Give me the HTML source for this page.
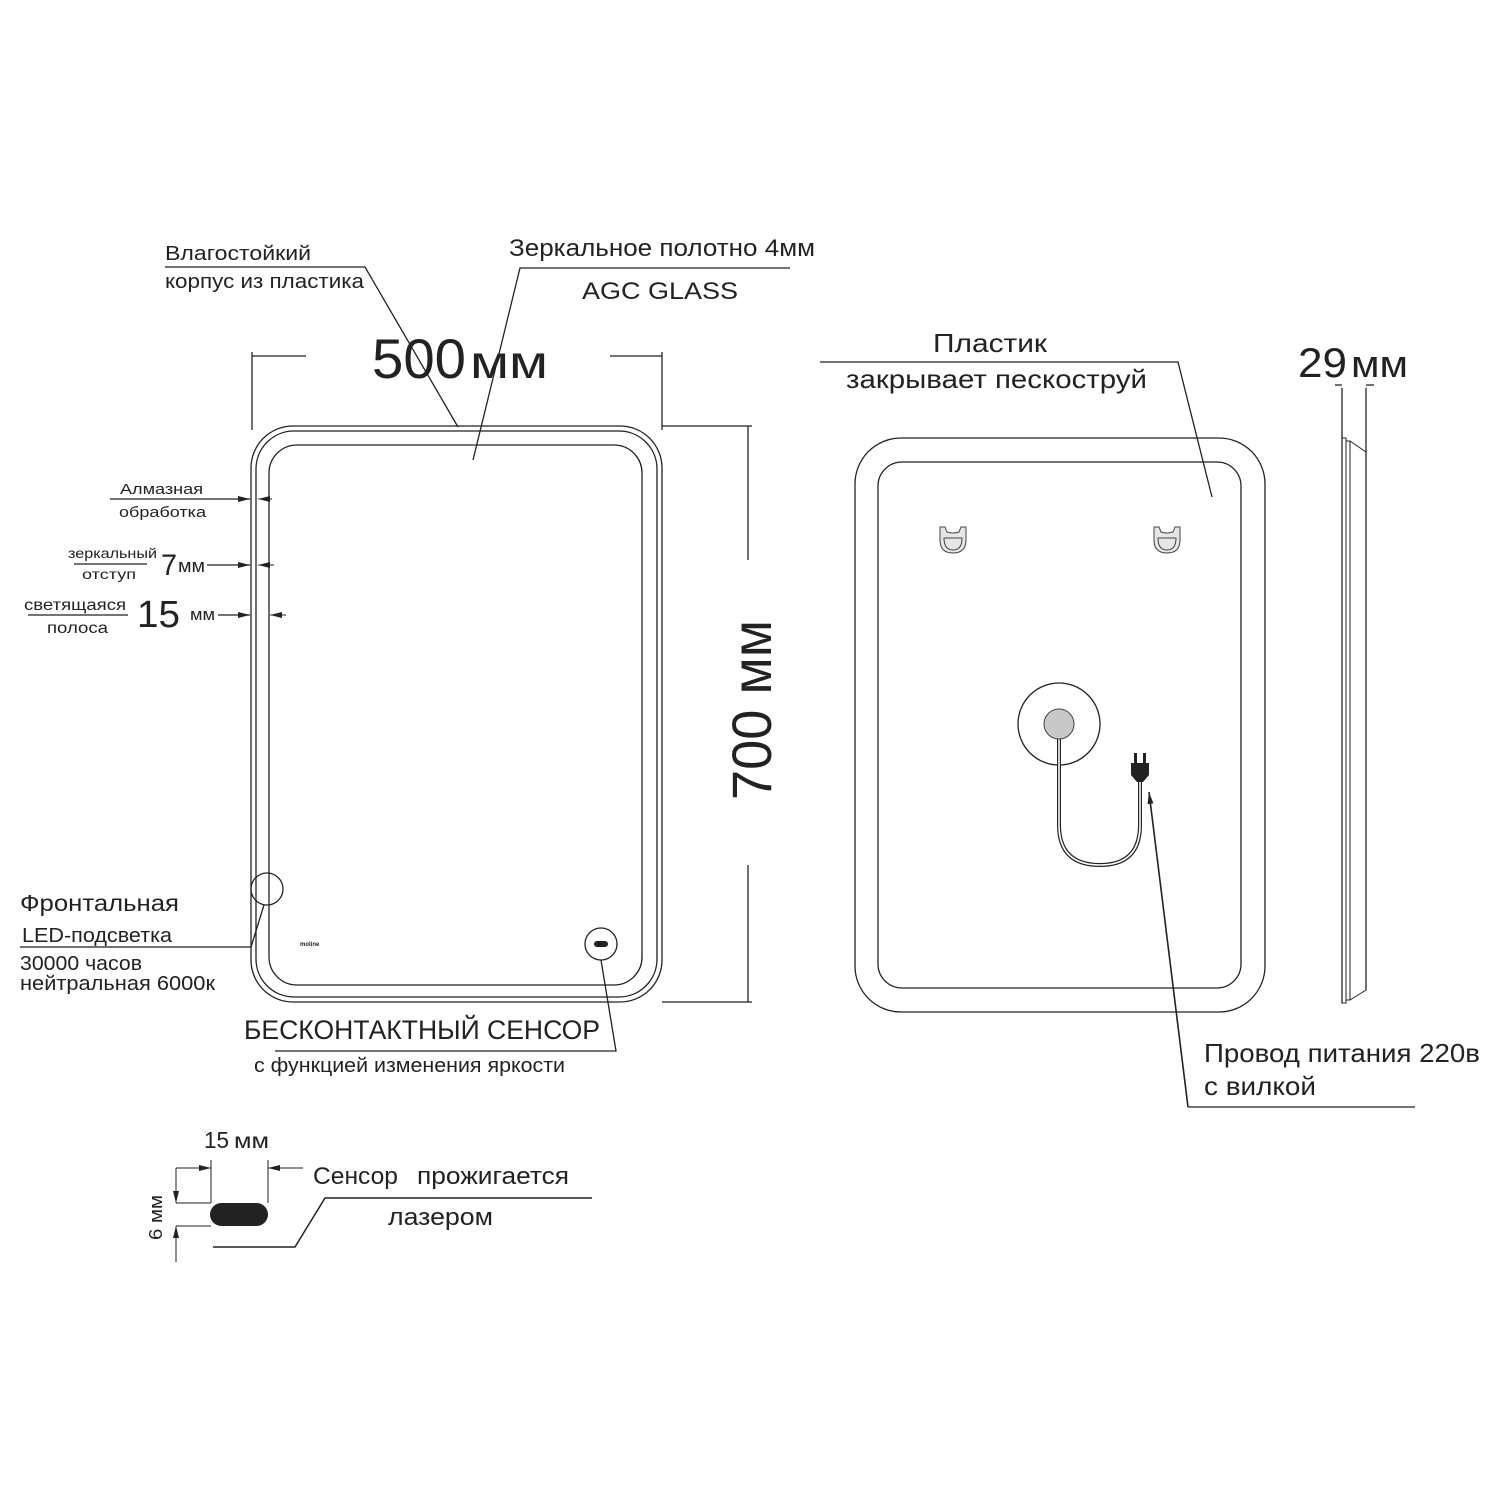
<!DOCTYPE html>
<html><head><meta charset="utf-8"><style>
html,body{margin:0;padding:0;background:#fff}
svg{display:block}
text{font-family:"Liberation Sans",sans-serif;fill:#222}
</style></head><body>
<svg width="1501" height="1501" viewBox="0 0 1501 1501" xmlns="http://www.w3.org/2000/svg">
<defs>
<marker id="ar" markerWidth="12" markerHeight="6" refX="12" refY="3" orient="auto" markerUnits="userSpaceOnUse">
<path d="M0,0 L12,3 L0,6 z" fill="#222"/></marker>
</defs>
<g fill="none" stroke="#222" stroke-width="1.3">
<rect x="251" y="426" width="411" height="576" rx="42"/>
<rect x="256" y="431" width="401" height="566" rx="38"/>
<rect x="269" y="445" width="373" height="540" rx="28"/>
<line x1="252" y1="352" x2="252" y2="430"/>
<line x1="662" y1="352" x2="662" y2="430"/>
<line x1="252" y1="356" x2="306" y2="356"/>
<line x1="610" y1="356" x2="662" y2="356"/>
<line x1="662" y1="426" x2="752" y2="426"/>
<line x1="662" y1="1002" x2="752" y2="1002"/>
<line x1="748" y1="426" x2="748" y2="560"/>
<line x1="748" y1="865" x2="748" y2="1002"/>
<polyline points="165,267 365,267 458,427"/>
<polyline points="790,268 520,268 473,460"/>
<line x1="110" y1="499" x2="250" y2="499" marker-end="url(#ar)"/>
<line x1="272" y1="499" x2="258" y2="499" marker-end="url(#ar)" stroke-width="1"/>
<line x1="74" y1="564" x2="147" y2="564"/>
<line x1="207" y1="565" x2="250" y2="565" marker-end="url(#ar)"/>
<line x1="274" y1="565" x2="258" y2="565" marker-end="url(#ar)" stroke-width="1"/>
<line x1="28" y1="615" x2="128" y2="615"/>
<line x1="218" y1="615" x2="250" y2="615" marker-end="url(#ar)"/>
<line x1="286" y1="615" x2="270" y2="615" marker-end="url(#ar)" stroke-width="1"/>
<circle cx="267" cy="889" r="16"/>
<polyline points="264,905 251,947 20,947"/>
<circle cx="601" cy="944" r="16"/>
<polyline points="601,960 616,1051 275,1051"/>
<rect x="855" y="438" width="410" height="574" rx="46"/>
<rect x="878" y="462" width="363" height="526" rx="24"/>
<circle cx="1059" cy="724" r="41"/>
<polyline points="820,362 1178,362 1212,497"/>
<path d="M1059,738 L1059,825 Q1059,865 1100,865 Q1140,865 1140,825 L1140,782" stroke-width="4"/>
<path d="M1059,738 L1059,825 Q1059,865 1100,865 Q1140,865 1140,825 L1140,782" stroke="#fff" stroke-width="1.6"/>
<line x1="1188" y1="1107" x2="1149" y2="792" marker-end="url(#ar)" stroke-width="1.6"/>
<line x1="1188" y1="1107" x2="1415" y2="1107"/>
<line x1="1342" y1="388" x2="1342" y2="1003"/>
<line x1="1366" y1="388" x2="1366" y2="990"/>
<line x1="1335" y1="385" x2="1342" y2="385"/>
<line x1="1366" y1="385" x2="1374" y2="385"/>
<rect x="1342" y="438" width="4" height="565" stroke-width="1"/>
<rect x="1346" y="441" width="4" height="559" stroke-width="1"/>
<polyline points="1350,441 1366,452 1366,990 1350,1000" stroke-width="1"/>
<line x1="211" y1="1160" x2="211" y2="1203" stroke-width="1"/>
<line x1="268" y1="1160" x2="268" y2="1203" stroke-width="1"/>
<line x1="176" y1="1168" x2="211" y2="1168" marker-end="url(#ar)" stroke-width="1"/>
<line x1="303" y1="1168" x2="268" y2="1168" marker-end="url(#ar)" stroke-width="1"/>
<line x1="176" y1="1203" x2="211" y2="1203" stroke-width="1"/>
<line x1="176" y1="1226" x2="211" y2="1226" stroke-width="1"/>
<line x1="176" y1="1168" x2="176" y2="1203" marker-end="url(#ar)" stroke-width="1"/>
<line x1="176" y1="1262" x2="176" y2="1226" marker-end="url(#ar)" stroke-width="1"/>
<polyline points="213,1247 295,1247 325,1198 592,1198" stroke-width="1.5"/>
</g>
<rect x="210" y="1203" width="58" height="23" rx="11.5" fill="#222"/>
<rect x="594" y="941" width="14" height="6" rx="3" fill="#222"/>
<circle cx="1059" cy="724" r="15" fill="#c8c8c8" stroke="#444" stroke-width="1"/>
<g fill="#e6e6e6" stroke="#444" stroke-width="1">
<path d="M940,527 L945,527 L947,532 Q953,534 959,532 L961,527 L966,527 L966,540 Q966,553 953,553 Q940,553 940,540 Z"/>
<path d="M944,538 L962,538 Q962,550 953,550 Q944,550 944,538 Z"/>
<path d="M1154,527 L1159,527 L1161,532 Q1167,534 1173,532 L1175,527 L1180,527 L1180,540 Q1180,553 1167,553 Q1154,553 1154,540 Z"/>
<path d="M1158,538 L1176,538 Q1176,550 1167,550 Q1158,550 1158,538 Z"/>
</g>
<path d="M1131,763 L1149,763 L1149,775 L1143,782 L1137,782 L1131,775 Z M1134,753 h3 v10 h-3 z M1143,753 h3 v10 h-3 z" fill="#222"/>
<text x="300" y="946" font-size="6" font-weight="bold">moline</text>
<g lengthAdjust="spacingAndGlyphs">
<text x="165" y="260" font-size="20" textLength="146" lengthAdjust="spacingAndGlyphs">Влагостойкий</text>
<text x="165" y="288" font-size="20" textLength="199" lengthAdjust="spacingAndGlyphs">корпус из пластика</text>
<text x="509" y="256" font-size="24" textLength="306" lengthAdjust="spacingAndGlyphs">Зеркальное  полотно 4мм</text>
<text x="582" y="299" font-size="24" textLength="156" lengthAdjust="spacingAndGlyphs">AGC GLASS</text>
<text x="372" y="378" font-size="56" textLength="94" lengthAdjust="spacingAndGlyphs">500</text>
<text x="470" y="378" font-size="46" textLength="78" lengthAdjust="spacingAndGlyphs">мм</text>
<text transform="translate(771,800) rotate(-90)" font-size="56" textLength="180" lengthAdjust="spacingAndGlyphs">700 мм</text>
<text x="120" y="494" font-size="15" textLength="83" lengthAdjust="spacingAndGlyphs">Алмазная</text>
<text x="119" y="517" font-size="15" textLength="87" lengthAdjust="spacingAndGlyphs">обработка</text>
<text x="68" y="558" font-size="14" textLength="89" lengthAdjust="spacingAndGlyphs">зеркальный</text>
<text x="82" y="579" font-size="14" textLength="54" lengthAdjust="spacingAndGlyphs">отступ</text>
<text x="161" y="575" font-size="30" textLength="16" lengthAdjust="spacingAndGlyphs">7</text>
<text x="178" y="572" font-size="18" textLength="27" lengthAdjust="spacingAndGlyphs">мм</text>
<text x="24" y="610" font-size="16" textLength="102" lengthAdjust="spacingAndGlyphs">светящаяся</text>
<text x="47" y="633" font-size="16" textLength="61" lengthAdjust="spacingAndGlyphs">полоса</text>
<text x="137" y="627" font-size="38" textLength="43" lengthAdjust="spacingAndGlyphs">15</text>
<text x="190" y="620" font-size="17" textLength="25" lengthAdjust="spacingAndGlyphs">мм</text>
<text x="20" y="911" font-size="23" textLength="159" lengthAdjust="spacingAndGlyphs">Фронтальная</text>
<text x="22" y="942" font-size="20" textLength="150" lengthAdjust="spacingAndGlyphs">LED-подсветка</text>
<text x="20" y="970" font-size="20" textLength="122" lengthAdjust="spacingAndGlyphs">30000 часов</text>
<text x="20" y="990" font-size="20" textLength="195" lengthAdjust="spacingAndGlyphs">нейтральная 6000к</text>
<text x="244" y="1039" font-size="27" textLength="356" lengthAdjust="spacingAndGlyphs">БЕСКОНТАКТНЫЙ СЕНСОР</text>
<text x="254" y="1072" font-size="20" textLength="311" lengthAdjust="spacingAndGlyphs">с функцией изменения яркости</text>
<text x="933" y="352" font-size="26" textLength="114" lengthAdjust="spacingAndGlyphs">Пластик</text>
<text x="846" y="388" font-size="26" textLength="301" lengthAdjust="spacingAndGlyphs">закрывает пескоструй</text>
<text x="1298" y="377" font-size="42" textLength="49" lengthAdjust="spacingAndGlyphs">29</text>
<text x="1351" y="377" font-size="38" textLength="57" lengthAdjust="spacingAndGlyphs">мм</text>
<text x="1204" y="1062" font-size="26" textLength="276" lengthAdjust="spacingAndGlyphs">Провод питания 220в</text>
<text x="1204" y="1095" font-size="26" textLength="112" lengthAdjust="spacingAndGlyphs">с вилкой</text>
<text x="204" y="1148" font-size="23" textLength="25" lengthAdjust="spacingAndGlyphs">15</text>
<text x="234" y="1148" font-size="21" textLength="35" lengthAdjust="spacingAndGlyphs">мм</text>
<text transform="translate(162,1240) rotate(-90)" font-size="18" textLength="45" lengthAdjust="spacingAndGlyphs">6 мм</text>
<text x="313" y="1184" font-size="24" textLength="85" lengthAdjust="spacingAndGlyphs">Сенсор</text>
<text x="417" y="1184" font-size="24" textLength="152" lengthAdjust="spacingAndGlyphs">прожигается</text>
<text x="388" y="1225" font-size="24" textLength="105" lengthAdjust="spacingAndGlyphs">лазером</text>
</g>
</svg>
</body></html>
